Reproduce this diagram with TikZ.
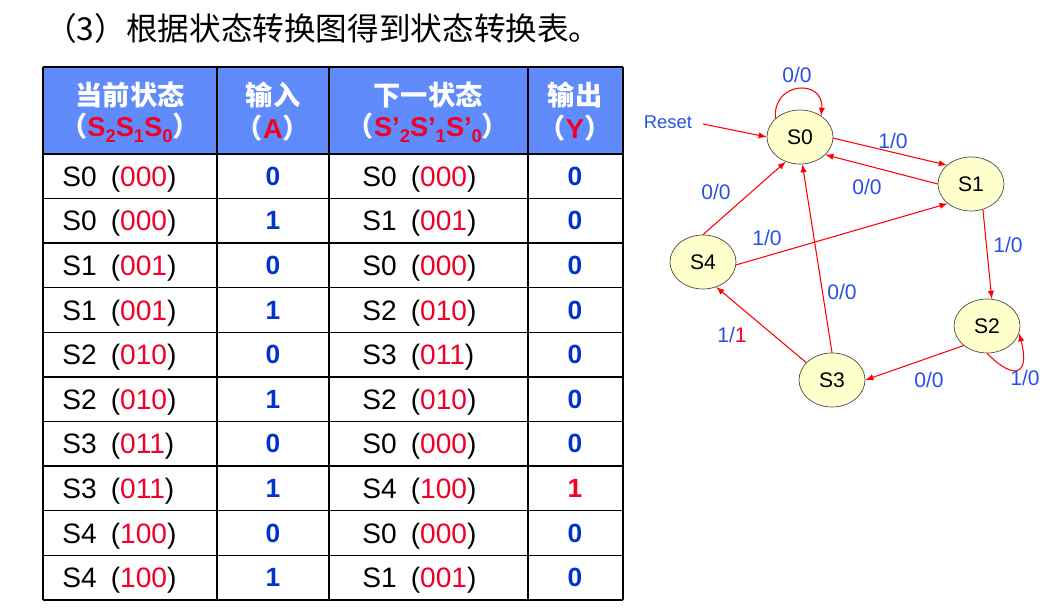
\documentclass[tikz,border=0pt]{standalone}
\usepackage{fontspec}
\setmainfont{Liberation Sans}
\newfontfamily\cjk{Noto Sans CJK SC}
\usepackage{tikz}
\usetikzlibrary{arrows,shapes,automata,positioning,calc}
\definecolor{headblue}{RGB}{95,140,250}
\definecolor{numblue}{RGB}{0,51,204}
\definecolor{codered}{RGB}{240,0,40}
\definecolor{lblblue}{RGB}{40,80,230}
\definecolor{statefill}{RGB}{255,255,204}
\newcommand{\lo}[1]{\raisebox{-.4ex}{\fontsize{10.5}{10.5}\selectfont #1}}

\begin{document}
\begin{tikzpicture}[x=0.02cm,y=0.02cm]

           \tikzstyle{every state}=[ellipse, draw=black!70, fill=statefill, minimum width=1.32cm, minimum height=1.08cm, inner sep=0pt, font=\fontsize{12}{12}\selectfont]
           \tikzstyle{every edge}=[draw=red, ->, >=latex, line width=0.6pt]
           \tikzstyle{lbl}=[text=lblblue, inner sep=0pt, font=\fontsize{12}{12}\selectfont]
           \tikzstyle{head}=[text=white, font=\fontsize{15.5}{15.5}\selectfont\bfseries]
           \tikzstyle{cell}=[anchor=base west, inner sep=0pt, font=\fontsize{16}{16}\selectfont]
           \tikzstyle{bit}=[inner sep=0pt, font=\fontsize{15}{15}\selectfont\bfseries]

    \useasboundingbox (0,0) rectangle (1061,614);

    \node[anchor=west, inner sep=0pt, font=\fontsize{18}{18}\selectfont\cjk] (title) at (45,586) {（3）根据状态转换图得到状态转换表。};

    \fill[headblue] (43,547) rectangle (623,460);
    \foreach \k in {0,...,10}
        \draw[line width=0.8pt] (43,{460-\k*44.6}) -- (623,{460-\k*44.6});
    \draw[line width=0.8pt] (43,547) -- (623,547);
    \foreach \c in {43,217,329,528,623}
        \draw[line width=0.8pt] (\c,547) -- (\c,14);

    \node[head] (h1) at (130,519) {\cjk 当前状态};
    \node[head] (h2) at (273,519) {\cjk 输入};
    \node[head] (h3) at (428,519) {\cjk 下一状态};
    \node[head] (h4) at (575,519) {\cjk 输出};
    \node[head] (g1) at (130,486) {{\cjk （}\textcolor{codered}{S\lo{2}S\lo{1}S\lo{0}}{\cjk ）}};
    \node[head] (g2) at (273,486) {{\cjk （}\textcolor{codered}{A}{\cjk ）}};
    \node[head] (g3) at (428,486) {{\cjk （}\textcolor{codered}{S’\lo{2}S’\lo{1}S’\lo{0}}{\cjk ）}};
    \node[head] (g4) at (575,486) {{\cjk （}\textcolor{codered}{Y}{\cjk ）}};

    \foreach \cur/\cd/\pin/\nxt/\ncd/\outp/\ocol [count=\k] in
        {S0/000/0/S0/000/0/numblue, S0/000/1/S1/001/0/numblue,
         S1/001/0/S0/000/0/numblue, S1/001/1/S2/010/0/numblue,
         S2/010/0/S3/011/0/numblue, S2/010/1/S2/010/0/numblue,
         S3/011/0/S0/000/0/numblue, S3/011/1/S4/100/1/codered,
         S4/100/0/S0/000/0/numblue, S4/100/1/S1/001/0/numblue}
    {
        \node[cell] (cur\k) at (62,{450-(\k-0.5)*44.6}) {\cur\hspace{0.5em}(\textcolor{codered}{\cd})};
        \node[bit, text=numblue] (in\k) at (273,{460-(\k-0.5)*44.6}) {\pin};
        \node[cell] (nxt\k) at (362,{450-(\k-0.5)*44.6}) {\nxt\hspace{0.5em}(\textcolor{codered}{\ncd})};
        \node[bit, text=\ocol] (out\k) at (575,{460-(\k-0.5)*44.6}) {\outp};
    }

    \node[state] (S0) at (800,477) {S0};
    \node[state] (S1) at (971,430) {S1};
    \node[state] (S4) at (703,352) {S4};
    \node[state] (S2) at (987,288) {S2};
    \node[state] (S3) at (832,234) {S3};

    \node[lbl, font=\fontsize{10.5}{10.5}\selectfont] (reset) at (668,492) {Reset};
    \coordinate (rs) at (703,490);

    \path (rs) edge (S0.west);
    \path (S0.143) edge[out=95, in=85, looseness=2.1] (S0.45);
    \path (S0.358) edge (S1.142);
    \path (S1.180) edge (S0.325);
    \path (S1.-65) edge (S2.80);
    \path (S2.-90) edge[out=-45, in=-75, looseness=2.8] (S2.-13);
    \path (S2.220) edge (S3.0);
    \path (S3.146) edge (S4.298);
    \path (S3.90) edge (S0.275);
    \path (S4.90) edge (S0.240);
    \path (S4.355) edge (S1.220);

    \node[lbl] (l00) at (797,539) {0/0};
    \node[lbl] (l01) at (893,473) {1/0};
    \node[lbl] (l10) at (867,427) {0/0};
    \node[lbl] (l12) at (1008,369) {1/0};
    \node[lbl] (l22) at (1025,236) {1/0};
    \node[lbl] (l23) at (929,234) {0/0};
    \node[lbl] (l34) at (732,279) {1/\textcolor{codered}{1}};
    \node[lbl] (l30) at (842,322) {0/0};
    \node[lbl] (l40) at (716,422) {0/0};
    \node[lbl] (l41) at (767,376) {1/0};
 \end{tikzpicture}
\end{document}
